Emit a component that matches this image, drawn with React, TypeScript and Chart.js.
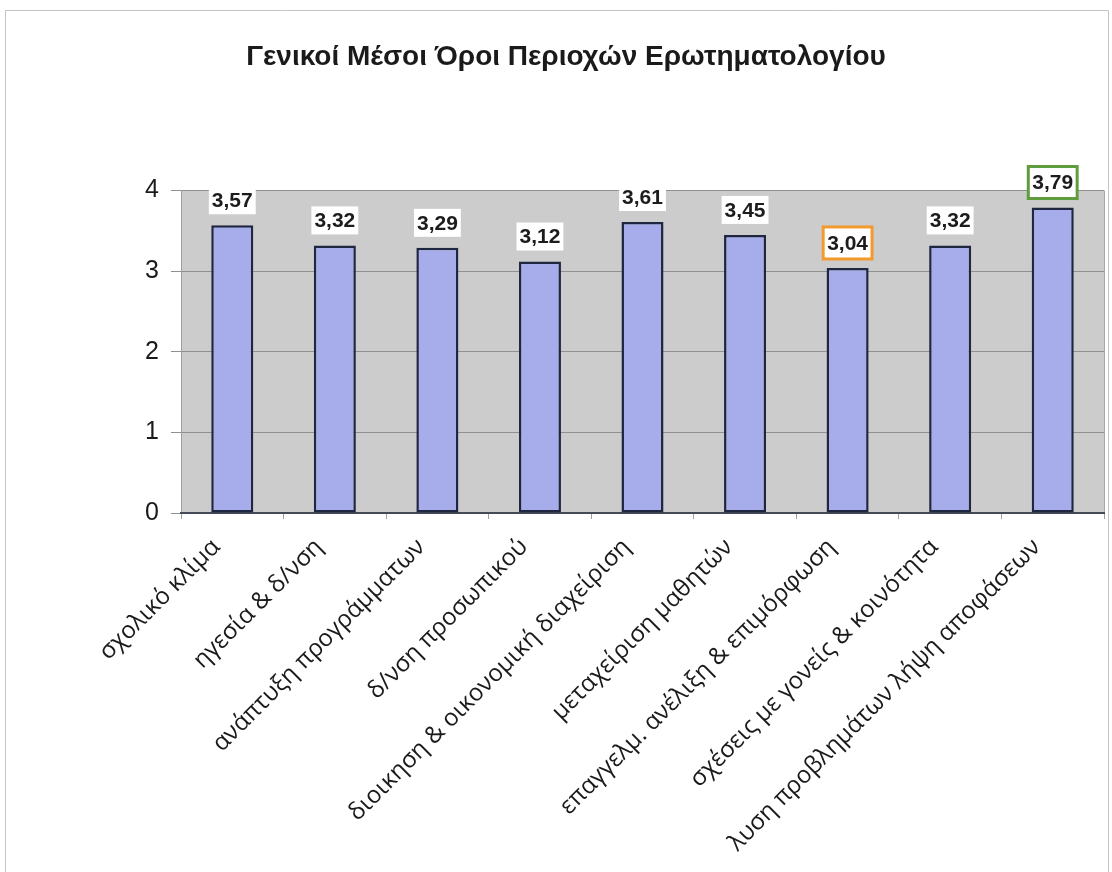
import React, { useEffect, useRef } from "react";
import { Chart, registerables } from "chart.js";

Chart.register(...registerables);

const TITLE = "Γενικοί Μέσοι Όροι Περιοχών Ερωτηματολογίου";

const categories = [
  "σχολικό κλίμα",
  "ηγεσία & δ/νση",
  "ανάπτυξη προγράμματων",
  "δ/νση προσωπικού",
  "διοικηση & οικονομική διαχείριση",
  "μεταχείριση μαθητών",
  "επαγγελμ. ανέλιξη & επιμόρφωση",
  "σχέσεις με γονείς & κοινότητα",
  "λυση προβλημάτων λήψη αποφάσεων",
];

const values = [3.57, 3.32, 3.29, 3.12, 3.61, 3.45, 3.04, 3.32, 3.79];

const yTicks = [0, 1, 2, 3, 4];

// the lowest and highest values get a coloured frame around their label
const lowIndex = values.indexOf(Math.min(...values));
const highIndex = values.indexOf(Math.max(...values));

const frameColor = (i: number): string | null =>
  i === lowIndex ? "#f29a2e" : i === highIndex ? "#5e9c3e" : null;

const backgroundPlugin = {
  id: "bgFrame",
  beforeDraw(chart: any) {
    const { ctx, chartArea: a, width, height } = chart;
    ctx.save();
    ctx.fillStyle = "#ffffff";
    ctx.fillRect(0, 0, width, height);
    ctx.strokeStyle = "#c4c4c4";
    ctx.lineWidth = 1;
    ctx.beginPath();
    ctx.moveTo(5.5, height);
    ctx.lineTo(5.5, 10.5);
    ctx.lineTo(1108.5, 10.5);
    ctx.lineTo(1108.5, height);
    ctx.stroke();
    ctx.fillStyle = "#cccccc";
    ctx.fillRect(a.left, a.top, a.right - a.left, a.bottom - a.top);
    ctx.strokeStyle = "#a8a8a8";
    ctx.beginPath();
    ctx.moveTo(a.right + 0.5, a.top);
    ctx.lineTo(a.right + 0.5, a.bottom);
    ctx.stroke();
    ctx.restore();
  },
};

const labelPlugin = {
  id: "valueLabels",
  afterDatasetsDraw(chart: any) {
    const { ctx } = chart;
    const meta = chart.getDatasetMeta(0);
    ctx.save();
    ctx.font = "bold 21px 'Liberation Sans', Arial, sans-serif";
    ctx.textAlign = "center";
    ctx.textBaseline = "middle";
    meta.data.forEach((bar: any, i: number) => {
      const text = values[i].toFixed(2).replace(".", ",");
      const w = ctx.measureText(text).width;
      const cx = bar.x;
      const cy = bar.y - 25;
      const fc = frameColor(i);
      const padX = fc ? 4 : 3;
      const padY = fc ? 5 : 3;
      const bw = w + padX * 2;
      const bh = 22 + padY * 2;
      ctx.fillStyle = "#ffffff";
      ctx.fillRect(cx - bw / 2, cy - bh / 2, bw, bh);
      if (fc) {
        ctx.strokeStyle = fc;
        ctx.lineWidth = 3;
        ctx.strokeRect(cx - bw / 2, cy - bh / 2, bw, bh);
      }
      ctx.fillStyle = "#1c1c1c";
      ctx.fillText(text, cx, cy + 1);
    });
    ctx.restore();
  },
};

export default function App() {
  const ref = useRef<HTMLCanvasElement | null>(null);

  useEffect(() => {
    if (!ref.current) return;
    const chart = new Chart(ref.current, {
      type: "bar",
      data: {
        labels: categories,
        datasets: [
          {
            data: values,
            backgroundColor: "#a6adea",
            borderColor: "#1f2640",
            borderWidth: 2.5,
            borderSkipped: false,
            categoryPercentage: 1,
            barPercentage: 0.41,
          },
        ],
      },
      options: {
        animation: false,
        responsive: false,
        maintainAspectRatio: false,
        layout: { padding: { left: 28, right: 8, top: 0, bottom: 0 } },
        plugins: {
          legend: { display: false },
          tooltip: { enabled: false },
          title: {
            display: true,
            text: TITLE,
            color: "#1a1a1a",
            font: { family: "'Liberation Sans', Arial, sans-serif", size: 28, weight: "bold", lineHeight: 1.2 },
            padding: { top: 40, bottom: 117 },
          },
        },
        scales: {
          y: {
            min: 0,
            max: 4,
            afterFit: (s: any) => {
              s.width = 153;
            },
            afterBuildTicks: (s: any) => {
              s.ticks = yTicks.map((v) => ({ value: v }));
            },
            ticks: {
              color: "#1a1a1a",
              font: { family: "'Liberation Sans', Arial, sans-serif", size: 25 },
              padding: 12,
            },
            grid: {
              color: "#909090",
              lineWidth: 1,
              tickLength: 10,
            },
            border: { display: true, color: "#a0a0a0" },
          },
          x: {
            afterFit: (s: any) => {
              s.height = 359;
            },
            ticks: {
              color: "#1a1a1a",
              font: { family: "'Open Sans', 'Noto Sans', sans-serif", size: 24 },
              minRotation: 45,
              maxRotation: 45,
              autoSkip: false,
              padding: 14,
              labelOffset: -16,
            },
            grid: {
              drawOnChartArea: false,
              drawTicks: true,
              tickLength: 6,
              color: "#a0a0a0",
              offset: true,
            },
            border: { display: true, color: "#444a58", width: 2 },
          },
        },
      },
      plugins: [backgroundPlugin, labelPlugin],
    });
    return () => chart.destroy();
  }, []);

  return (
    <div style={{ position: "absolute", left: 0, top: 0, width: 1112, height: 872 }}>
      <canvas ref={ref} width={1112} height={872} style={{ display: "block", width: 1112, height: 872 }} />
    </div>
  );
}
